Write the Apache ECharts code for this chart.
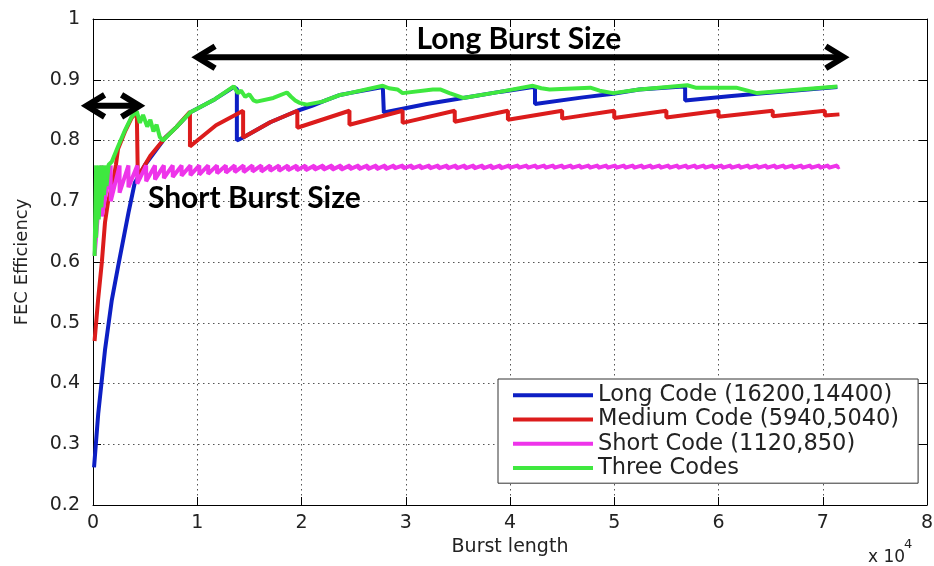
<!DOCTYPE html>
<html><head><meta charset="utf-8">
<script src="https://cdn.jsdelivr.net/npm/echarts@6.0.0/dist/echarts.min.js"></script>
<style>html,body{margin:0;padding:0;background:#fff}#c{width:934px;height:566px}</style>
</head><body><div id="c"></div>
<script>
// ---- data (x in units of 10^4 bits) ----
const seriesNames = ['Long Code (16200,14400)', 'Medium Code (5940,5040)', 'Short Code (1120,850)', 'Three Codes'];
const seriesColors = ['#0d1fc4', '#dc1c1c', '#ee34ea', '#3fe83f'];

const longCode = [
  [0.01,0.262],[0.05,0.35],[0.115,0.455],[0.18,0.537],[0.24,0.592],[0.34,0.681],[0.40,0.73],
  [0.50,0.76],[0.69,0.804],[0.80,0.822],[0.93,0.846],[1.17,0.868],[1.35,0.888],[1.38,0.885],
  [1.38,0.80],[1.44,0.805],[1.70,0.83],[1.96,0.849],[2.10,0.857],[2.20,0.864],[2.37,0.875],
  [2.46,0.878],[2.78,0.888],[2.79,0.886],[2.79,0.846],[3.20,0.86],[3.55,0.87],[3.90,0.88],
  [4.22,0.888],[4.24,0.886],[4.24,0.86],[4.70,0.871],[4.99,0.877],[5.24,0.884],[5.66,0.889],
  [5.68,0.887],[5.68,0.866],[6.10,0.873],[6.37,0.877],[7.14,0.888]
];

const mediumCode = [
  [0.015,0.47],[0.05,0.54],[0.085,0.60],[0.115,0.665],[0.145,0.70],[0.19,0.73],[0.22,0.76],
  [0.24,0.786],[0.31,0.816],[0.37,0.837],[0.42,0.847],[0.43,0.849],[0.43,0.74],[0.55,0.775],
  [0.69,0.804],[0.80,0.822],[0.93,0.847],[0.93,0.79],[1.18,0.825],[1.44,0.849],[1.44,0.805],
  [1.70,0.83],[1.96,0.849],[1.96,0.821],[2.46,0.849],[2.46,0.826],[2.97,0.849],[2.97,0.829],
  [3.47,0.849],[3.47,0.831],[3.98,0.849],[3.98,0.834],[4.50,0.849],[4.50,0.836],[5.00,0.849],
  [5.00,0.837],[5.50,0.849],[5.50,0.838],[6.00,0.849],[6.00,0.839],[6.52,0.849],[6.52,0.840],
  [7.02,0.849],[7.02,0.841],[7.16,0.843]
];

const shortStart = [0.015, 0.61];
const shortPeak = 0.759;
const shortEnd = [7.16, 0.757];
const shortToothX = [
  0.085,0.17,0.255,0.34,0.425,0.51,0.595,0.68,0.765,0.85,0.935,1.02,1.105,1.19,1.275,1.36,1.445,1.53,1.615,1.70,
  1.785,1.87,1.955,2.04,2.125,2.21,2.295,2.38,2.465,2.55,2.635,2.72,2.805,2.89,2.975,3.06,3.145,3.23,3.315,3.40,
  3.485,3.57,3.655,3.74,3.825,3.91,3.995,4.08,4.165,4.25,4.335,4.42,4.505,4.59,4.675,4.76,4.845,4.93,5.015,5.10,
  5.185,5.27,5.355,5.44,5.525,5.61,5.695,5.78,5.865,5.95,6.035,6.12,6.205,6.29,6.375,6.46,6.545,6.63,6.715,6.80,
  6.885,6.97,7.055,7.14
];
const shortToothLow = [
  0.675,0.700,0.714,0.723,0.729,0.733,0.736,0.738,0.740,0.742,
  0.743,0.744,0.745,0.746,0.747,0.748,0.748,0.749,0.749,0.750,
  0.750,0.751,0.751,0.751,0.752,0.752,0.752,0.752,0.753,0.753,
  0.753,0.753,0.753,0.754,0.754,0.754,0.754,0.754,0.754,0.754,
  0.754,0.754,0.754,0.754,0.754,0.754,0.755,0.755,0.755,0.755,
  0.755,0.755,0.755,0.755,0.755,0.755,0.755,0.755,0.755,0.755,
  0.755,0.755,0.755,0.755,0.755,0.755,0.755,0.755,0.755,0.755,
  0.755,0.755,0.755,0.755,0.755,0.755,0.755,0.755,0.755,0.755,
  0.755,0.755,0.755,0.755
];

const threeCodes = [
  [0.015,0.61],[0.03,0.759],[0.03,0.64],[0.055,0.759],[0.055,0.67],[0.08,0.759],[0.08,0.69],
  [0.105,0.759],[0.105,0.71],[0.13,0.759],[0.13,0.725],[0.15,0.76],[0.18,0.765],[0.24,0.79],
  [0.31,0.818],[0.37,0.839],[0.42,0.848],[0.45,0.829],[0.48,0.842],[0.52,0.823],[0.55,0.834],
  [0.58,0.815],[0.61,0.826],[0.64,0.806],[0.67,0.80],[0.80,0.822],[0.93,0.846],[1.17,0.868],
  [1.35,0.889],[1.39,0.878],[1.42,0.882],[1.46,0.872],[1.50,0.876],[1.54,0.866],[1.57,0.864],
  [1.73,0.87],[1.86,0.879],[1.90,0.872],[1.94,0.866],[1.98,0.862],[2.05,0.859],[2.20,0.864],
  [2.37,0.875],[2.46,0.878],[2.78,0.89],[2.84,0.886],[2.92,0.884],[2.97,0.878],[3.26,0.884],
  [3.33,0.884],[3.42,0.878],[3.55,0.87],[3.90,0.88],[4.22,0.89],[4.30,0.886],[4.38,0.884],
  [4.77,0.887],[4.86,0.882],[4.99,0.878],[5.24,0.884],[5.70,0.891],[5.78,0.887],[6.17,0.887],
  [6.37,0.878],[7.14,0.889]
];

// annotations (data coordinates)
const longArrow = [[0.96, 0.937], [7.24, 0.937]];
const shortArrow = [[-0.10, 0.857], [0.485, 0.857]];
const longLabel = { text: 'Long Burst Size', at: [4.085, 0.966], align: 'center' };
const shortLabel = { text: 'Short Burst Size', at: [0.527, 0.704], align: 'left' };

// ---- build short code series from read teeth ----
const shortCode = [shortStart];
shortToothX.forEach((x, i) => { shortCode.push([x, shortPeak]); shortCode.push([x, shortToothLow[i]]); });
shortCode.push(shortEnd);

const FONT = 'DejaVu Sans';
const chart = echarts.init(document.getElementById('c'), null, { renderer: 'canvas' });

const gridLine = { show: true, lineStyle: { color: '#555', width: 1, type: [1.5, 3.5] } };
const tick = { show: true, inside: true, length: 8, lineStyle: { color: '#000' } };
const axisLine = { show: true, onZero: false, lineStyle: { color: '#000', width: 1 } };

function lineSeries(name, data, color) {
  return {
    name, type: 'line', data, showSymbol: false, symbol: 'none', smooth: false,
    lineStyle: { color, width: 4 }, itemStyle: { color }, animation: false,
    xAxisIndex: 0, yAxisIndex: 0
  };
}

const option = {
  backgroundColor: '#fff',
  animation: false,
  color: seriesColors,
  grid: { left: 93, right: 7, top: 19, bottom: 61, outerBoundsMode: 'none', containLabel: false },
  xAxis: [
    {
      type: 'value', min: 0, max: 8, interval: 1, position: 'bottom',
      axisLine, axisTick: tick, splitLine: gridLine,
      axisLabel: { fontFamily: FONT, fontSize: 19, color: '#222', margin: 9 },
      name: 'Burst length', nameLocation: 'middle', nameGap: 31,
      nameTextStyle: { fontFamily: FONT, fontSize: 19, color: '#222' }
    },
    {
      type: 'value', min: 0, max: 8, interval: 1, position: 'top',
      axisLine, axisTick: tick, splitLine: { show: false }, axisLabel: { show: false }
    }
  ],
  yAxis: [
    {
      type: 'value', min: 0.2, max: 1, interval: 0.1, position: 'left',
      axisLine, axisTick: tick, splitLine: gridLine,
      axisLabel: { fontFamily: FONT, fontSize: 19, color: '#222', margin: 13,
        formatter: v => (Math.round(v * 10) / 10).toString() },
      name: 'FEC Efficiency', nameLocation: 'middle', nameGap: 62, nameRotate: 90,
      nameTextStyle: { fontFamily: FONT, fontSize: 18, color: '#222' }
    },
    {
      type: 'value', min: 0.2, max: 1, interval: 0.1, position: 'right',
      axisLine, axisTick: tick, splitLine: { show: false }, axisLabel: { show: false }
    }
  ],
  legend: {
    orient: 'vertical', left: 498, top: 379, data: seriesNames,
    icon: 'rect', itemWidth: 80, itemHeight: 4, itemGap: 0,
    padding: [4, 19, 3, 15], borderColor: '#333', borderWidth: 1, backgroundColor: '#fff',
    textStyle: { fontFamily: FONT, fontSize: 22.5, color: '#222', lineHeight: 24.3 },
    selectedMode: false
  },
  series: [
    lineSeries(seriesNames[0], longCode, seriesColors[0]),
    lineSeries(seriesNames[1], mediumCode, seriesColors[1]),
    lineSeries(seriesNames[2], shortCode, seriesColors[2]),
    lineSeries(seriesNames[3], threeCodes, seriesColors[3])
  ]
};
chart.setOption(option);

// ---- annotations placed through the axes' scales ----
const P = p => chart.convertToPixel({ xAxisIndex: 0, yAxisIndex: 0 }, p);
const ARM_X = 18, ARM_Y = 11, LW = 6;
function arrowGraphics(pair) {
  const a = P(pair[0]), b = P(pair[1]);
  const y = a[1];
  const l = a[0] + 4, r = b[0] - 4;
  const st = { stroke: '#000', lineWidth: LW, fill: null, lineJoin: 'miter', lineCap: 'butt' };
  return [
    { type: 'polyline', z: 100, shape: { points: [[l + 2, y], [r - 2, y]] }, style: st },
    { type: 'polyline', z: 100, shape: { points: [[l + ARM_X, y - ARM_Y], [l, y], [l + ARM_X, y + ARM_Y]] }, style: st },
    { type: 'polyline', z: 100, shape: { points: [[r - ARM_X, y - ARM_Y], [r, y], [r - ARM_X, y + ARM_Y]] }, style: st }
  ];
}
function labelGraphic(lb) {
  const p = P(lb.at);
  return {
    type: 'text', z: 100, x: p[0], y: p[1],
    style: { text: lb.text, fontFamily: 'Lato', fontWeight: 'bold', fontSize: 30, fill: '#000',
      align: lb.align, verticalAlign: 'middle' }
  };
}
chart.setOption({
  graphic: [
    ...arrowGraphics(longArrow),
    ...arrowGraphics(shortArrow),
    labelGraphic(longLabel),
    labelGraphic(shortLabel),
    { type: 'text', z: 100, x: 868, y: 549, style: { text: 'x 10', fontFamily: FONT, fontSize: 17, fill: '#222' } },
    { type: 'text', z: 100, x: 904, y: 538, style: { text: '4', fontFamily: FONT, fontSize: 13, fill: '#222' } }
  ]
});
</script>
</body></html>
